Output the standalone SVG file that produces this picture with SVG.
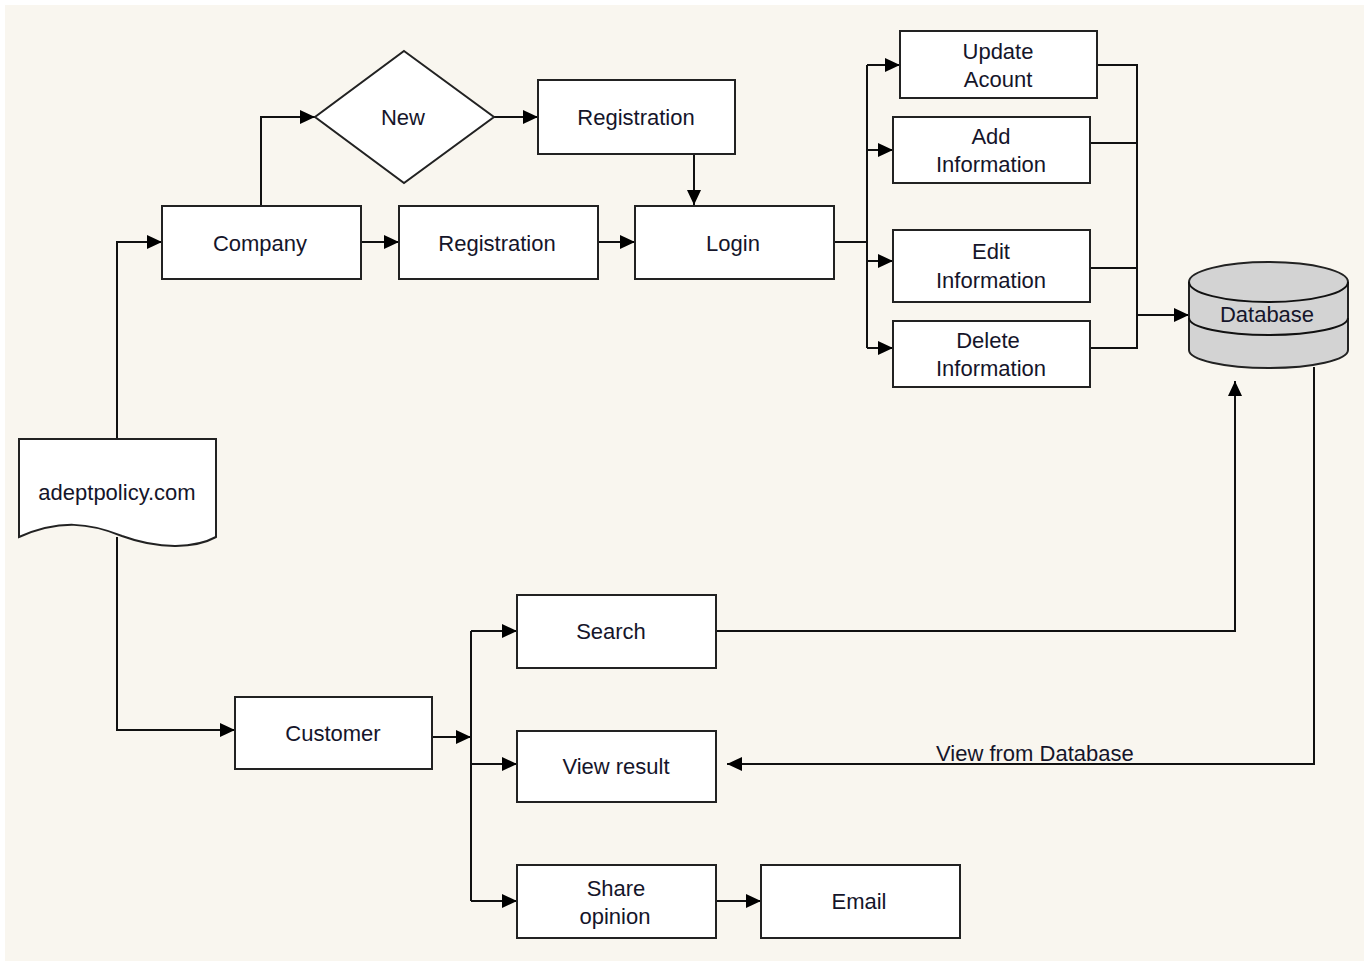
<svg xmlns="http://www.w3.org/2000/svg" width="1369" height="965" viewBox="0 0 1369 965">
<defs>
<marker id="arr" markerUnits="userSpaceOnUse" markerWidth="16" markerHeight="14" refX="15" refY="7" orient="auto">
<path d="M0,0 L15,7 L0,14 Z" fill="#000"/>
</marker>
<style>
.box{fill:#fff;stroke:#222;stroke-width:2}
.db{fill:#d3d3d3;stroke:#222;stroke-width:2}
.t{font-family:"Liberation Sans",Arial,sans-serif;font-size:22px;fill:#15152a;text-anchor:middle}
.c{fill:none;stroke:#111;stroke-width:2}
.ca{fill:none;stroke:#111;stroke-width:2;marker-end:url(#arr)}
</style>
</defs>
<rect x="0" y="0" width="1369" height="965" fill="#fff"/>
<rect x="5" y="5" width="1359" height="956" fill="#f9f6ef"/>

<g id="connectors">
<path class="ca" d="M117,439 V242 H162"/>
<path class="ca" d="M117,537 V730 H235"/>
<path class="ca" d="M261,206 V117 H315"/>
<path class="ca" d="M494,117 H538"/>
<path class="ca" d="M694,154 V205"/>
<path class="ca" d="M361,242 H399"/>
<path class="ca" d="M598,242 H635"/>
<path class="c" d="M834,242 H867"/>
<path class="c" d="M867,65 V348"/>
<path class="ca" d="M867,65 H900"/>
<path class="ca" d="M867,150 H893"/>
<path class="ca" d="M867,261 H893"/>
<path class="ca" d="M867,348 H893"/>
<path class="c" d="M1097,65 H1137 V348 H1090"/>
<path class="c" d="M1090,143 H1137"/>
<path class="c" d="M1090,268 H1137"/>
<path class="ca" d="M1137,315 H1189"/>
<path class="ca" d="M716,631 H1235 V381"/>
<path class="ca" d="M1314,367 V764 H727"/>
<text class="t" x="936" y="761" style="text-anchor:start">View from Database</text>
<path class="ca" d="M432,737 H471"/>
<path class="c" d="M471,631 V901"/>
<path class="ca" d="M471,631 H517"/>
<path class="ca" d="M471,764 H517"/>
<path class="ca" d="M471,901 H517"/>
<path class="ca" d="M716,901 H761"/>
</g>

<g id="adeptpolicy">
<path class="box" d="M19,439 H216 V537 C196,548 160,550 122,536 C90,523 60,519 19,537 Z"/>
<text class="t" x="117" y="500">adeptpolicy.com</text>
</g>
<g id="company">
<rect class="box" x="162" y="206" width="199" height="73"/>
<text class="t" x="260" y="251">Company</text>
</g>
<g id="new">
<path class="box" d="M404,51 L494,117 L404,183 L315,117 Z"/>
<text class="t" x="403" y="125">New</text>
</g>
<g id="registration-top">
<rect class="box" x="538" y="80" width="197" height="74"/>
<text class="t" x="636" y="125">Registration</text>
</g>
<g id="registration">
<rect class="box" x="399" y="206" width="199" height="73"/>
<text class="t" x="497" y="251">Registration</text>
</g>
<g id="login">
<rect class="box" x="635" y="206" width="199" height="73"/>
<text class="t" x="733" y="251">Login</text>
</g>
<g id="update">
<rect class="box" x="900" y="31" width="197" height="67"/>
<text class="t" x="998" y="59">Update</text>
<text class="t" x="998" y="87">Acount</text>
</g>
<g id="add">
<rect class="box" x="893" y="117" width="197" height="66"/>
<text class="t" x="991" y="144">Add</text>
<text class="t" x="991" y="172">Information</text>
</g>
<g id="edit">
<rect class="box" x="893" y="230" width="197" height="72"/>
<text class="t" x="991" y="259">Edit</text>
<text class="t" x="991" y="288">Information</text>
</g>
<g id="delete">
<rect class="box" x="893" y="321" width="197" height="66"/>
<text class="t" x="988" y="348">Delete</text>
<text class="t" x="991" y="376">Information</text>
</g>
<g id="database">
<path class="db" d="M1189,282 V350 A79.5,18 0 0 0 1348,350 V282 A79.5,20 0 0 0 1189,282 Z"/>
<path class="c" d="M1189,282 A79.5,20 0 0 0 1348,282"/>
<path class="c" d="M1189,318 A79.5,17 0 0 0 1348,318"/>
<text class="t" x="1267" y="322">Database</text>
</g>
<g id="customer">
<rect class="box" x="235" y="697" width="197" height="72"/>
<text class="t" x="333" y="741">Customer</text>
</g>
<g id="search">
<rect class="box" x="517" y="595" width="199" height="73"/>
<text class="t" x="611" y="639">Search</text>
</g>
<g id="viewresult">
<rect class="box" x="517" y="731" width="199" height="71"/>
<text class="t" x="616" y="774">View result</text>
</g>
<g id="share">
<rect class="box" x="517" y="865" width="199" height="73"/>
<text class="t" x="616" y="896">Share</text>
<text class="t" x="615" y="924">opinion</text>
</g>
<g id="email">
<rect class="box" x="761" y="865" width="199" height="73"/>
<text class="t" x="859" y="909">Email</text>
</g>
</svg>
